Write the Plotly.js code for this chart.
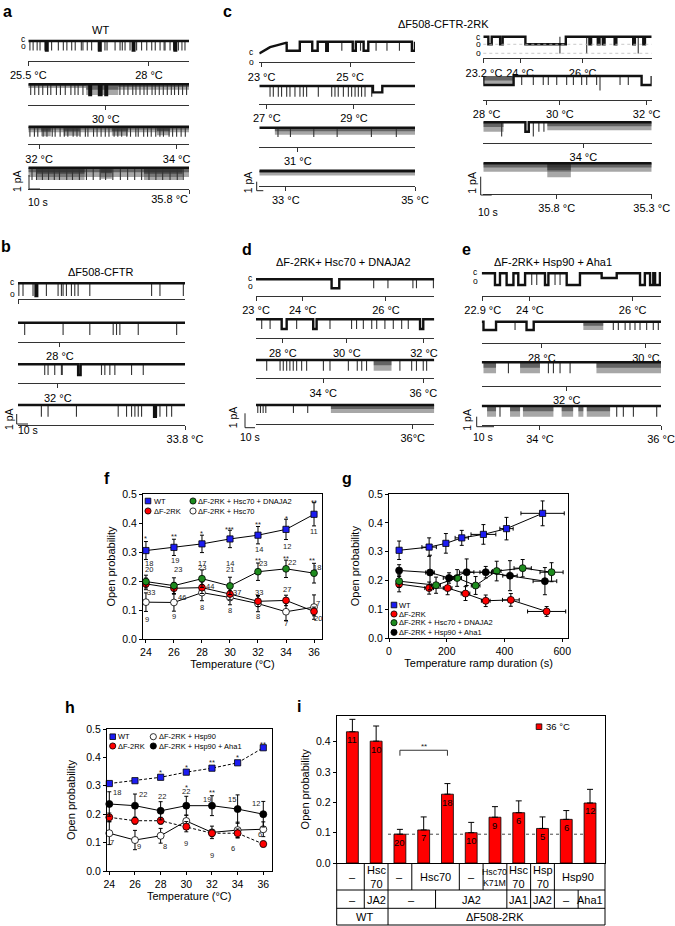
<!DOCTYPE html>
<html>
<head>
<meta charset="utf-8">
<script src="https://cdn.plot.ly/plotly-3.0.1.min.js"></script>
<style>html,body{margin:0;padding:0;background:#fff}#chart{width:675px;height:926px}</style>
</head>
<body>
<div id="chart"></div>
<script>
// ===================== DATA =====================
// --- panel f: Po vs temperature ---
const temps = [24, 26, 28, 30, 32, 34, 36];
const fWT = [0.305, 0.316, 0.328, 0.345, 0.358, 0.378, 0.430];
const fWTErr = [0.031, 0.028, 0.030, 0.030, 0.030, 0.035, 0.040];
const fRK = [0.190, 0.175, 0.177, 0.155, 0.130, 0.133, 0.095];
const fRKErr = [0.020, 0.020, 0.020, 0.020, 0.018, 0.018, 0.015];
const fHscJA2 = [0.198, 0.184, 0.208, 0.183, 0.232, 0.242, 0.227];
const fHscJA2Err = [0.022, 0.027, 0.030, 0.030, 0.030, 0.030, 0.034];
const fHsc = [0.127, 0.126, 0.160, 0.143, 0.122, 0.094, 0.110];
const fHscErr = [0.032, 0.030, 0.028, 0.025, 0.028, 0.030, 0.042];
const fWTn = [18, 19, 17, 14, 14, 12, 11];
const fHscJA2n = [20, 23, 23, 21, 23, 22, 18];
const fRKn = [33, 46, 44, 37, 33, 27, 20];
const fHscn = [9, 9, 8, 8, 8, 7, 7];
const fWTsig = ['*', '**', '*', '***', '**', '*', '**'];
const fHscJA2sig = ['**', '**', '**'];

// --- panel g: Po vs ramp duration ---
const gDurWT = [35, 139, 197, 252, 327, 407, 532];
const gDurWTErr = [8, 25, 8, 23, 43, 23, 75];
const gWT = [0.305, 0.316, 0.329, 0.348, 0.360, 0.380, 0.433];
const gWTErr = [0.032, 0.032, 0.034, 0.026, 0.034, 0.039, 0.043];
const gDurRK = [35, 139, 203, 265, 335, 422, 546];
const gDurRKErr = [8, 15, 15, 15, 15, 29, 66];
const gRK = [0.188, 0.174, 0.174, 0.155, 0.130, 0.133, 0.093];
const gRKErr = [0.027, 0.021, 0.023, 0.024, 0.020, 0.022, 0.017];
const gDurHscJA2 = [35, 163, 236, 300, 373, 463, 563];
const gDurHscJA2Err = [8, 15, 15, 15, 15, 30, 40];
const gHscJA2 = [0.198, 0.184, 0.209, 0.183, 0.233, 0.243, 0.229];
const gHscJA2Err = [0.022, 0.028, 0.029, 0.031, 0.034, 0.030, 0.033];
const gDurHspAha = [35, 142, 208, 269, 335, 419, 540];
const gDurHspAhaErr = [8, 15, 20, 25, 20, 25, 41];
const gHspAha = [0.235, 0.228, 0.209, 0.229, 0.229, 0.217, 0.198];
const gHspAhaErr = [0.020, 0.060, 0.018, 0.046, 0.020, 0.052, 0.047];

// --- panel h: Po vs temperature (Hsp90) ---
const hWT = [0.308, 0.318, 0.330, 0.348, 0.362, 0.381, 0.434];
const hRK = [0.189, 0.177, 0.177, 0.156, 0.133, 0.133, 0.095];
const hRKErr = [0.015, 0.012, 0.012, 0.018, 0.012, 0.015, 0.010];
const hHsp90 = [0.133, 0.109, 0.124, 0.176, 0.136, 0.144, 0.147];
const hHsp90Err = [0.040, 0.034, 0.026, 0.020, 0.022, 0.028, 0.026];
const hHspAha = [0.236, 0.230, 0.212, 0.230, 0.230, 0.218, 0.200];
const hHspAhaErr = [0.043, 0.041, 0.032, 0.033, 0.035, 0.050, 0.045];
const hWTsig = ['*', '*', '**', '*', '**'];
const hHspAhaSig = ['*', '**'];
const hHspAhan = [18, 22, 22, 22, 19, 15, 12];
const hHsp90n = [7, 9, 8, 9, 9, 6, 6];

// --- panel i: Po at 36 °C ---
const iVals = [0.433, 0.402, 0.095, 0.109, 0.227, 0.100, 0.151, 0.166, 0.114, 0.144, 0.198];
const iErr = [0.041, 0.050, 0.016, 0.043, 0.035, 0.034, 0.035, 0.039, 0.038, 0.029, 0.045];
const iN = [11, 10, 20, 7, 18, 10, 9, 6, 5, 6, 12];
const iRow1 = ['–', 'Hsc<br>70', '–', 'Hsc70', '–', 'Hsc70<br>K71M', 'Hsc<br>70', 'Hsp<br>70', 'Hsp90'];
const iRow1Span = [[0, 0], [1, 1], [2, 2], [3, 4], [5, 5], [6, 6], [7, 7], [8, 8], [9, 10]];
const iRow2 = ['–', 'JA2', '–', 'JA2', 'JA1', 'JA2', '–', 'Aha1'];
const iRow2Span = [[0, 0], [1, 1], [2, 3], [4, 6], [7, 7], [8, 8], [9, 9], [10, 10]];
const iRow3 = ['WT', 'ΔF508-2RK'];
const iRow3Span = [[0, 1], [2, 10]];
const iSigPair = [2, 4];

// --- panels a–e: single-channel records (time in % of sweep; openings: number = brief opening,
//     [start,end] = burst, [start,end,level] = sublevel / double level); dense = flickery stretches ---
const evA1 = [1, 3, 5.5, 7.3, 10.4, 14.5, 18.7, 21.8, 24, 27, 29.2, 33, 34, 36.7, 39.4, 43.6, 47.7, 49, 54, 57.1, 58.5, 60.2, 63.3, 67.4, 70.5, 73.7, 76.8, 79, 82, 84.5, 85.1, 88.2, 90.4, 93.4, 95.6, 97.5, [11, 12], [44, 45], [65, 66], [91, 92]];
const dnA1 = [];
const evA2 = [1.5, 4, 6.5, 9, 12, 14, 17.5, 20, 23, 26.5, 29, 31, 34, 57, 59.5, 62, 65, 67, 69.5, 72, 74, 77, 79, 81.5, 84, 86.5, 89, 91, 93.5, 96, 98.5, [38, 39], [44, 45.5], [48, 49]];
const dnA2 = [[36, 56, 1], [56, 100, 0.5], [0, 36, 0.35]];
const evA3 = [1, 3.8, 5.9, 9.2, 11.6, 14.9, 16.7, 19.8, 22.4, 24.6, 27.9, 30.3, 32.2, 35.5, 37.1, 40.6, 42.8, 45.3, 47.9, 50.2, 53.4, 55.7, 58.1, 61.3, 63.6, 66.9, 68.4, 71.8, 74.2, 76.5, 79.3, 81.9, 84.1, 87.6, 89.8, 92.3, 95.1, 97.7];
const dnA3 = [[0, 100, 0.55], [8, 14, 0.95], [22, 32, 0.9], [52, 62, 0.9], [80, 88, 0.85]];
const evA4 = [2.3, 5.1, 8.8, 12.6, 16.2, 19.4, 23.9, 27.5, 31.8, 36.2, 40.4, 44.7, 48.1, 52.6, 57.3, 61.8, 66.2, 70.5, 75.1, 79.4, 83.6, 88.2, 92.7, 96.4];
const dnA4 = [[0, 100, 0.75], [5, 35, 1], [45, 52, 0.9], [72, 96, 1]];

const evB1 = [0.5, 3, 9, 11, 17, 24, 26, 27, 29, 32, 34, 36, 43, 80, 85, 99, [10.5, 11.5]];
const evB2 = [4, 27, 43, 57, 59, 61, 72, 95];
const evB3 = [16, 18, 22, 26, 26.5, 50, 52, 55, 58, 68, 75, [36, 37.5]];
const evB4 = [14, 18, 35, 60, 65, 68, 70, 72, 74, 83, 85, 89, 92, [81.5, 82.5]];

const driftCL1x = [0, 3.6, 6.9, 11.1, 15.4, 17.6];
const driftCL1y = [-1.3, -0.9, -0.6, -0.4, -0.2, -0.1];
const evCL1 = [[17.6, 26], [34, 37.5], [43, 44], [60, 62], [67, 70], [98, 100], 53, 65, 75, 82, 90];
const evCL2 = [6.9, 9, 12.2, 14.3, 17.6, 19.7, 22.9, 26.1, 28.3, 30.4, 37.9, 46.5, 48.6, 50.7, 54, 57.2, 59.3, 61.5, 63.6, 65.7, 67.9, 72.2, [73, 79, 0.6]];
const evCL3 = [12, 20, 35, 50, 72, 88];
const dnCL3 = [[10, 100, 0.75]];
const dnCL4 = [[0, 100, 0.8]];

const evCR1 = [[3, 5], [10, 11.5], [25, 49], [63, 64], [68, 69], [71, 72], [78, 79], [89, 90], [95, 96], [45.5, 45.5, 2.2], [61.4, 61.4, 2.2], [92, 92, 2.2]];
const evCR2 = [[0, 18], 22.8, 29.7, 35.6, 38.6, 43.6, 49.5, 53.5, 58.4, 61.4, 67.3, [69.3, 69.3, 1.6], 81.2, 86.1, [94, 100]];
const dnCR2 = [[0, 18, 1]];
const evCR3 = [[25, 27], [29.7, 29.7, 1.5], [10.9, 10.9, 1.5], 33, 36];
const dnCR3 = [[0, 12, 1], [38, 100, 0.85]];
const dnCR4 = [[0, 100, 0.85], [38, 52, 1.4]];

const evD1 = [[42.4, 46.7], 66, 74, 88, 90, 99.5];
const evD2 = [3.2, 7.9, [14.4, 17.2], 22.8, [32.1, 34], 41.5, 53.6, 56.4, 60.2, 64.9, 67.7, 72.3, 77, 81.7, 85.4, [92, 93.8]];
const evD3 = [6, 13.5, 15.3, 17.2, 19, 20.9, 22.8, 25.6, 28.4, 37.8, 41.5, 51.8, 56.8, 59.3, 62, 80.7, 87.3, 90, 93.8, 95.7];
const dnD3 = [[66, 76, 1]];
const evD4 = [1, 2.5, 4, 5.5, 21, 29];
const dnD4 = [[42, 100, 1]];

const evE1 = [[7.4, 10.2], [13.9, 17.7], [20.4, 24.2], 27.9, 30.7, [35.3, 37.2], 40.9, 43.7, [47.4, 54.8], [66.9, 75.3, 0.4], [88.3, 91], [93.9, 95.7], [96.7, 99.4]];
const evE2 = [[1, 8], 18.6, [25, 29], 73.4, 76.2, 80, 82.7, 85.5, 88.3, 92, 95.7, 98.5];
const dnE2 = [[56.7, 67.8, 1]];
const evE3 = [14.9, 37.2, 40, 43.7, 49.3];
const dnE3 = [[1, 8, 1], [21.4, 32.5, 1], [64, 100, 1]];
const evE4 = [10.2, 75.3, 79, 84.6, 97.6];
const dnE4 = [[3, 8, 1], [15.8, 21.4, 1], [23, 40, 1], [44.6, 51, 1], [53.9, 56.7, 1], [58.6, 71.6, 1]];

// temperature marks along each sweep (time in %) and their labels
const tA1 = [0, 75.1], lA1 = ['25.5 °C', '28 °C'];
const tA2 = [48.2], lA2 = ['30 °C'];
const tA3 = [6.7, 92.3], lA3 = ['32 °C', '34 °C'];
const tA4 = [100], lA4 = ['35.8 °C'];
const tB1 = [0], lB1 = ['26.6 °C'];
const tB2 = [25.1], lB2 = ['28 °C'];
const tB3 = [23.8], lB3 = ['32 °C'];
const tB4 = [100], lB4 = ['33.8 °C'];
const tCL1 = [1.5, 58.3], lCL1 = ['23 °C', '25 °C'];
const tCL2 = [4.8, 60.8], lCL2 = ['27 °C', '29 °C'];
const tCL3 = [24.7], lCL3 = ['31 °C'];
const tCL4 = [17, 100], lCL4 = ['33 °C', '35 °C'];
const tCR1 = [0.4, 21.8, 59], lCR1 = ['23.2 °C', '24 °C', '26 °C'];
const tCR2 = [2, 45.5, 97], lCR2 = ['28 °C', '30 °C', '32 °C'];
const tCR3 = [59.4], lCR3 = ['34 °C'];
const tCR4 = [43.6, 100], lCR4 = ['35.8 °C', '35.3 °C'];
const tD1 = [0, 26.2, 72.9], lD1 = ['23 °C', '24 °C', '26 °C'];
const tD2 = [15, 50.9, 94.2], lD2 = ['28 °C', '30 °C', '32 °C'];
const tD3 = [37.7, 93.8], lD3 = ['34 °C', '36 °C'];
const tD4 = [87.9], lD4 = ['36°C'];
const tE1 = [0.6, 26.9, 84.2], lE1 = ['22.9 °C', '24 °C', '26 °C'];
const tE2 = [33.5, 91.6], lE2 = ['28 °C', '30 °C'];
const tE3 = [47.4], lE3 = ['32 °C'];
const tE4 = [32.5, 100], lE4 = ['34 °C', '36 °C'];

// ===================== LAYOUT (pixel geometry) =====================
const W = 675, H = 926;
const px = v => v / W;
const py = v => 1 - v / H;
const FONT = 'Liberation Sans, Arial, Helvetica, sans-serif';
const BLUE = '#1c1cf2', RED = '#ff0000', GREEN = '#1e8c1e';

// row: data, x0, x1, closed-level px, open-level px, temperature-line px, label position
const rows = [
  [evA1, dnA1, tA1, lA1, null, 28.3, 189, 41, 50.5, 61],
  [evA2, dnA2, tA2, lA2, null, 28.3, 189, 84.3, 95, 105],
  [evA3, dnA3, tA3, lA3, null, 28.3, 189, 126.7, 136.7, 144.3],
  [evA4, dnA4, tA4, lA4, null, 28.3, 189, 167.7, 180, 189, 'outside left'],
  [evB1, [], tB1, lB1, null, 18, 185, 283.3, 296, 299.3],
  [evB2, [], tB2, lB2, null, 18, 185, 322.7, 335, 341.7],
  [evB3, [], tB3, lB3, null, 18, 185, 364.3, 375, 383.3],
  [evB4, [], tB4, lB4, null, 18, 185, 405, 416.7, 425],
  [evCL1, [], tCL1, lCL1, [driftCL1x, driftCL1y], 259.3, 415, 41.7, 50.7, 62.3],
  [evCL2, [], tCL2, lCL2, null, 259.3, 415, 86, 96.7, 104],
  [evCL3, dnCL3, tCL3, lCL3, null, 259.3, 415, 127.7, 137, 146.7],
  [[], dnCL4, tCL4, lCL4, null, 259.3, 415, 170.7, 176.7, 186],
  [evCR1, [], tCR1, lCR1, null, 483.3, 651.7, 36.7, 44.3, 58.3],
  [evCR2, dnCR2, tCR2, lCR2, null, 483.3, 651.7, 76, 85, 100],
  [evCR3, dnCR3, tCR3, lCR3, null, 483.3, 651.7, 122.3, 131.7, 142.7],
  [[], dnCR4, tCR4, lCR4, null, 483.3, 651.7, 163.3, 173.3, 194],
  [evD1, [], tD1, lD1, null, 256, 434.3, 279.3, 288.3, 296],
  [evD2, [], tD2, lD2, null, 256, 434.3, 319.3, 329, 338.3],
  [evD3, dnD3, tD3, lD3, null, 256, 434.3, 360, 370.7, 378.3],
  [evD4, dnD4, tD4, lD4, null, 256, 434.3, 405, 413, 424],
  [evE1, [], tE1, lE1, null, 481.7, 661, 273.3, 285, 295.7],
  [evE2, dnE2, tE2, lE2, null, 481.7, 661, 321.7, 330, 343.3],
  [evE3, dnE3, tE3, lE3, null, 481.7, 661, 362.3, 373.3, 385.7],
  [evE4, dnE4, tE4, lE4, null, 481.7, 661, 406, 416.7, 425]
];

const traces = [];
const layout = {
  width: W, height: H, margin: {l: 0, r: 0, t: 0, b: 0},
  paper_bgcolor: 'white', plot_bgcolor: 'rgba(0,0,0,0)', showlegend: false,
  font: {family: FONT, size: 11, color: 'black'},
  annotations: [], shapes: []
};

function pann(text, x, y, size, extra) {
  layout.annotations.push(Object.assign({
    text: text, x: px(x), y: py(y), xref: 'paper', yref: 'paper', showarrow: false,
    font: {size: size, color: 'black', family: FONT}, xanchor: 'center', yanchor: 'middle', borderpad: 0
  }, extra || {}));
}
function dann(text, x, y, xa, ya, size, extra) {
  layout.annotations.push(Object.assign({
    text: String(text), x: x, y: y, xref: xa, yref: ya, showarrow: false,
    font: {size: size, color: '#222', family: FONT}, xanchor: 'center', yanchor: 'middle', borderpad: 0
  }, extra || {}));
}
function pline(x0, y0, x1, y1, color, width, dash) {
  layout.shapes.push({type: 'line', xref: 'paper', yref: 'paper', x0: px(x0), y0: py(y0), x1: px(x1), y1: py(y1),
    line: {color: color || 'black', width: width || 1, dash: dash || 'solid'}});
}
function legendMark(x, y, kind, fill) {
  const s = kind === 'square' ? 2.8 : 3.1;
  layout.shapes.push({type: kind === 'square' ? 'rect' : 'circle', xref: 'paper', yref: 'paper',
    x0: px(x - s), x1: px(x + s), y0: py(y + s), y1: py(y - s), fillcolor: fill, line: {color: 'black', width: 0.8}});
}

// ---------- single-channel rows ----------
rows.forEach((r, k) => {
  const [ev, dense, tAt, tLab, drift, x0, x1, c, o, lineY, tlp] = r;
  const idx = k + 5;
  const xa = 'x' + idx, ya = 'y' + idx;
  const u = o - c;
  layout['xaxis' + idx] = {
    domain: [px(x0), px(x1)], range: [0, 1], anchor: 'free', position: py(lineY),
    showline: true, linecolor: '#333', linewidth: 1, ticks: 'outside', ticklen: 4, tickwidth: 1, tickcolor: '#333',
    tickvals: tAt.map(v => v / 100), ticktext: tLab, tickfont: {size: 11, color: 'black', family: FONT},
    ticklabelposition: tlp || 'outside', showgrid: false, zeroline: false, fixedrange: true
  };
  layout['yaxis' + idx] = {domain: [py(c + 2.6 * u), py(c - 1.6 * u)], range: [-2.6, 1.6], visible: false, anchor: xa, fixedrange: true};

  dense.forEach(d => {
    // full-depth flicker band, darker towards the closed level
    [[1, 'rgba(60,60,60,0.45)'], [0.5, 'rgba(20,20,20,0.45)']].forEach(f => {
      traces.push({type: 'scatter', mode: 'lines', xaxis: xa, yaxis: ya, hoverinfo: 'skip',
        x: [d[0] / 100, d[1] / 100, d[1] / 100, d[0] / 100, d[0] / 100], y: [0, 0, -d[2] * f[0], -d[2] * f[0], 0],
        fill: 'toself', fillcolor: f[1], line: {width: 0}});
    });
  });
  const evs = ev.map(e => Array.isArray(e) ? {s: e[0], e: e[1], L: e.length > 2 ? e[2] : 1} : {s: e, e: e, L: 1})
    .sort((a, b) => a.s - b.s);
  const bx = [], by = [];
  if (drift) { drift[0].forEach((v, i) => { bx.push(v / 100); by.push(drift[1][i]); }); }
  else { bx.push(0); by.push(0); }
  const sx = [], sy = [];
  evs.forEach(q => {
    if (q.e > q.s) { bx.push(q.s / 100, q.s / 100, q.e / 100, q.e / 100); by.push(0, -q.L, -q.L, 0); }
    else { sx.push(q.s / 100, q.s / 100, null); sy.push(0, -q.L, null); }
  });
  bx.push(1); by.push(0);
  traces.push({type: 'scatter', mode: 'lines', xaxis: xa, yaxis: ya, x: sx, y: sy, hoverinfo: 'skip',
    line: {color: '#333', width: 1.1}});
  traces.push({type: 'scatter', mode: 'lines', xaxis: xa, yaxis: ya, x: bx, y: by, hoverinfo: 'skip',
    line: {color: '#111', width: 2.4}});
});

// panel letters
[['a', 7, 12], ['b', 6, 246], ['c', 227, 12], ['d', 247, 250], ['e', 466, 250],
 ['f', 107, 478], ['g', 347, 478], ['h', 70, 707], ['i', 299, 706]].forEach(l =>
  pann('<b>' + l[0] + '</b>', l[1], l[2], 16));
// record titles
pann('WT', 100, 30, 11);
pann('ΔF508-CFTR', 100, 272, 11);
pann('ΔF508-CFTR-2RK', 443, 24, 11);
pann('ΔF-2RK+ Hsc70 + DNAJA2', 343, 262.5, 11);
pann('ΔF-2RK+ Hsp90 + Aha1', 553, 262.5, 11);
// closed / open labels
[[23, 39, 'c'], [23, 46, 'o'], [12, 282, 'c'], [12, 294, 'o'], [251.7, 52, 'c'], [251.7, 62, 'o'],
 [478.3, 36.5, 'c'], [478.3, 44.5, 'o'], [478.3, 53.3, 'o'], [250, 278, 'c'], [250, 286, 'o'],
 [476, 272, 'c'], [476, 281, 'o']].forEach(t => pann(t[2], t[0], t[1], 8.5));
pline(483.3, 44.3, 651.7, 44.3, '#bbb', 0.8, 'dot');
pline(483.3, 53.3, 651.7, 53.3, '#bbb', 0.8, 'dot');
// scale bars
[[29, 175, 189, 40, 17, 181, 38, 202],
 [16.7, 414, 424, 28, 9, 419, 28.3, 430],
 [256.7, 181.7, 190.7, 263.3, 248.3, 182, null, null],
 [480.7, 176.7, 195, 491.7, 471.7, 183, 488.3, 211.7],
 [245, 413.3, 427.7, 255, 233.3, 417, 250, 437],
 [476.7, 416.7, 426.7, 494, 466.7, 420, 483.3, 437]].forEach(s => {
  pline(s[0], s[1], s[0], s[2], '#222', 1);
  pline(s[0], s[2], s[3], s[2], '#222', 1);
  pann('1 pA', s[4], s[5], 10.5, {textangle: -90});
  if (s[6] !== null) pann('10 s', s[6], s[7], 10.5);
});

// ---------- chart axes ----------
const baseAx = {showline: true, linecolor: 'black', linewidth: 1, mirror: true, ticks: 'outside', ticklen: 3,
  tickwidth: 1, tickcolor: 'black', showgrid: false, zeroline: false, fixedrange: true,
  tickfont: {size: 10.5, color: 'black', family: FONT}};
function ax(extra) { return Object.assign({}, baseAx, extra); }
const tempTitle = {text: 'Temperature (°C)', font: {size: 11, family: FONT}, standoff: 3};
const poTitle = s => ({text: 'Open probability', font: {size: 11, family: FONT}, standoff: s});

layout.xaxis = ax({domain: [px(143), px(322)], range: [23.79, 36.57], tickvals: temps, title: tempTitle, anchor: 'y'});
layout.yaxis = ax({domain: [py(639), py(494)], range: [0, 0.5], dtick: 0.1, tickformat: '.1f', title: poTitle(4), anchor: 'x'});
layout.xaxis2 = ax({domain: [px(389), px(568.3)], range: [0, 621], tickvals: [0, 200, 400, 600],
  title: {text: 'Temperature ramp duration (s)', font: {size: 11, family: FONT}, standoff: 3}, anchor: 'y2'});
layout.yaxis2 = ax({domain: [py(638.3), py(494)], range: [0, 0.5], dtick: 0.1, tickformat: '.1f', title: poTitle(6), anchor: 'x2'});
layout.xaxis3 = ax({domain: [px(107), px(271.5)], range: [23.82, 36.64], tickvals: temps, title: tempTitle, anchor: 'y3'});
layout.yaxis3 = ax({domain: [py(871), py(729)], range: [0, 0.5], dtick: 0.1, tickformat: '.1f', title: poTitle(8), anchor: 'x3'});
layout.xaxis4 = ax({domain: [px(336.7), px(605)], range: [-0.66, 10.63], ticks: '', showticklabels: false, anchor: 'y4'});
layout.yaxis4 = ax({domain: [py(863), py(715.7)], range: [0, 0.486], tickvals: [0, 0.1, 0.2, 0.3, 0.4], tickformat: '.1f', title: poTitle(4), anchor: 'x4'});

function series(x, y, err, xa, ya, sym, color, size, dash, xerr) {
  const t = {type: 'scatter', mode: 'lines+markers', x: x, y: y, xaxis: xa, yaxis: ya, hoverinfo: 'skip', cliponaxis: false,
    line: {color: 'black', width: 1, dash: dash || 'solid'},
    marker: {symbol: sym, size: size, color: color, line: {color: 'black', width: 0.8}},
    error_y: err ? {type: 'data', array: err, visible: true, color: 'black', thickness: 1, width: 2} : {visible: false}};
  if (xerr) t.error_x = {type: 'data', array: xerr, visible: true, color: 'black', thickness: 1, width: 2};
  return t;
}
// f
traces.push(series(temps, fHsc, fHscErr, 'x', 'y', 'circle', 'white', 6.8));
traces.push(series(temps, fRK, fRKErr, 'x', 'y', 'circle', RED, 6.8));
traces.push(series(temps, fHscJA2, fHscJA2Err, 'x', 'y', 'circle', GREEN, 6.8));
traces.push(series(temps, fWT, fWTErr, 'x', 'y', 'square', BLUE, 6.2));
// g
traces.push(series(gDurRK, gRK, gRKErr, 'x2', 'y2', 'circle', RED, 7, null, gDurRKErr));
traces.push(series(gDurHscJA2, gHscJA2, gHscJA2Err, 'x2', 'y2', 'circle', GREEN, 7, null, gDurHscJA2Err));
traces.push(series(gDurHspAha, gHspAha, gHspAhaErr, 'x2', 'y2', 'circle', 'black', 7, null, gDurHspAhaErr));
traces.push(series(gDurWT, gWT, gWTErr, 'x2', 'y2', 'square', BLUE, 6.2, null, gDurWTErr));
// h
traces.push(series(temps, hHsp90, hHsp90Err, 'x3', 'y3', 'circle', 'white', 7));
traces.push(series(temps, hRK, hRKErr, 'x3', 'y3', 'circle', RED, 7, '3px,2px'));
traces.push(series(temps, hHspAha, hHspAhaErr, 'x3', 'y3', 'circle', 'black', 7));
traces.push(series(temps, hWT, null, 'x3', 'y3', 'square', BLUE, 6.2, '3px,2px'));
// i
const iX = iVals.map((v, k) => k);
traces.push({type: 'bar', x: iX, y: iVals, xaxis: 'x4', yaxis: 'y4', width: 0.5, hoverinfo: 'skip',
  marker: {color: RED, line: {color: 'black', width: 0.8}},
  error_y: {type: 'data', symmetric: false, array: iErr, arrayminus: iErr.map(() => 0), color: 'black', thickness: 1, width: 3}});

// ---------- chart annotations (label positions) ----------
const fWTnPos = [[24.2, 0.262], [26.1, 0.27], [28, 0.259], [30, 0.259], [32.1, 0.307], [34.05, 0.32], [36, 0.37]];
const fGnPos = [[24.2, 0.24], [26.3, 0.238], [28, 0.246], [30, 0.238], [32.36, 0.259], [34.4, 0.263], [36.2, 0.248]];
const fRnPos = [[24.35, 0.16], [26.55, 0.143], [28.6, 0.18], [30.5, 0.16], [32.05, 0.16], [34.05, 0.171], [36.3, 0.069]];
const fHnPos = [[24.1, 0.066], [26, 0.079], [28, 0.107], [30, 0.097], [32, 0.077], [34, 0.052], [36.3, 0.124]];
const fWTsPos = [[24, 0.353], [26, 0.362], [28, 0.37], [30, 0.384], [32, 0.401], [34, 0.422], [36, 0.479]];
const fGsPos = [[32, 0.276], [34, 0.284], [35.85, 0.276]];
fWTn.forEach((n, k) => dann(n, fWTnPos[k][0], fWTnPos[k][1], 'x', 'y', 7.5));
fHscJA2n.forEach((n, k) => dann(n, fGnPos[k][0], fGnPos[k][1], 'x', 'y', 7.5));
fRKn.forEach((n, k) => dann(n, fRnPos[k][0], fRnPos[k][1], 'x', 'y', 7.5));
fHscn.forEach((n, k) => dann(n, fHnPos[k][0], fHnPos[k][1], 'x', 'y', 7.5));
fWTsig.forEach((s, k) => dann(s, fWTsPos[k][0], fWTsPos[k][1], 'x', 'y', 7.5, {yshift: -2}));
fHscJA2sig.forEach((s, k) => dann(s, fGsPos[k][0], fGsPos[k][1], 'x', 'y', 7.5, {yshift: -2}));

const hWTsPos = [[28, 0.353], [30, 0.373], [32, 0.388], [34, 0.405], [36, 0.454]];
const hBsPos = [[30, 0.30], [32, 0.282]];
const hBnPos = [[24.62, 0.276], [26.65, 0.271], [28.08, 0.264], [29.98, 0.279], [31.59, 0.252], [33.54, 0.252], [35.41, 0.238]];
const hWnPos = [[24.19, 0.10], [26.34, 0.086], [28.34, 0.088], [30, 0.097], [31.98, 0.056], [33.67, 0.08], [35.74, 0.127]];
hWTsig.forEach((s, k) => dann(s, hWTsPos[k][0], hWTsPos[k][1], 'x3', 'y3', 7.5, {yshift: -2}));
hHspAhaSig.forEach((s, k) => dann(s, hBsPos[k][0], hBsPos[k][1], 'x3', 'y3', 7.5, {yshift: -2}));
hHspAhan.forEach((n, k) => dann(n, hBnPos[k][0], hBnPos[k][1], 'x3', 'y3', 7.5));
hHsp90n.forEach((n, k) => dann(n, hWnPos[k][0], hWnPos[k][1], 'x3', 'y3', 7.5));

// i: n inside bars, reference line, significance bracket
iN.forEach((n, k) => dann(n, k, iVals[k], 'x4', 'y4', 9.5, {yshift: -8, font: {size: 9.5, color: 'black', family: FONT}}));
layout.shapes.push({type: 'line', xref: 'x4', yref: 'y4', x0: 1.5, x1: 9.75, y0: iVals[2], y1: iVals[2],
  line: {color: '#333', width: 0.9, dash: 'dot'}, layer: 'below'});
layout.shapes.push({type: 'path', xref: 'x4', yref: 'y4',
  path: `M ${iSigPair[0]} 0.354 L ${iSigPair[0]} 0.372 L ${iSigPair[1]} 0.372 L ${iSigPair[1]} 0.354`,
  line: {color: '#333', width: 1}});
dann('**', (iSigPair[0] + iSigPair[1]) / 2, 0.392, 'x4', 'y4', 8, {yshift: -2});

// i: condition table
const tTop = 863, tR1 = 890, tR2 = 908.3, tBot = 925;
[tR1, tR2, tBot].forEach(y => layout.shapes.push({type: 'line', xref: 'x4 domain', yref: 'paper', x0: 0, x1: 1, y0: py(y), y1: py(y), line: {color: 'black', width: 1}}));
[0, 1].forEach(x => layout.shapes.push({type: 'line', xref: 'x4 domain', yref: 'paper', x0: x, x1: x, y0: py(tTop), y1: py(tBot), line: {color: 'black', width: 1}}));
function tableRow(labels, spans, yTop, yBot, sizes) {
  spans.forEach((sp, k) => {
    if (k > 0) layout.shapes.push({type: 'line', xref: 'x4', yref: 'paper', x0: sp[0] - 0.5, x1: sp[0] - 0.5, y0: py(yTop), y1: py(yBot), line: {color: 'black', width: 1}});
    layout.annotations.push({text: labels[k], x: (sp[0] + sp[1]) / 2, y: py((yTop + yBot) / 2 + 0.5), xref: 'x4', yref: 'paper',
      showarrow: false, xanchor: 'center', yanchor: 'middle', borderpad: 0,
      font: {size: sizes ? sizes[k] : 11, color: 'black', family: FONT}});
  });
}
tableRow(iRow1, iRow1Span, tTop, tR1, [11, 11, 11, 11, 11, 8.8, 11, 11, 11]);
tableRow(iRow2, iRow2Span, tR1, tR2);
tableRow(iRow3, iRow3Span, tR2, tBot);

// ---------- legends ----------
legendMark(148, 501, 'square', BLUE); pann('WT', 152.5, 501, 7.5, {xanchor: 'left'});
legendMark(148, 511, 'circle', RED); pann('ΔF-2RK', 152.5, 511, 7.5, {xanchor: 'left'});
legendMark(193, 501, 'circle', GREEN); pann('ΔF-2RK + Hsc70 + DNAJA2', 197.5, 501, 7.5, {xanchor: 'left'});
legendMark(193, 511, 'circle', 'white'); pann('ΔF-2RK + Hsc70', 197.5, 511, 7.5, {xanchor: 'left'});

legendMark(394, 605, 'square', BLUE); pann('WT', 398.5, 605, 7.5, {xanchor: 'left'});
legendMark(394, 614, 'circle', RED); pann('ΔF-2RK', 398.5, 614, 7.5, {xanchor: 'left'});
legendMark(394, 622.7, 'circle', GREEN); pann('ΔF-2RK + Hsc70 + DNAJA2', 398.5, 622.7, 7.5, {xanchor: 'left'});
legendMark(394, 632.3, 'circle', 'black'); pann('ΔF-2RK + Hsp90 + Aha1', 398.5, 632.3, 7.5, {xanchor: 'left'});

legendMark(112.7, 736.7, 'square', BLUE); pann('WT', 117, 736.7, 7.5, {xanchor: 'left'});
legendMark(112.7, 746, 'circle', RED); pann('ΔF-2RK', 117, 746, 7.5, {xanchor: 'left'});
legendMark(153.3, 736.7, 'circle', 'white'); pann('ΔF-2RK + Hsp90', 157.7, 736.7, 7.5, {xanchor: 'left'});
legendMark(153.3, 746, 'circle', 'black'); pann('ΔF-2RK + Hsp90 + Aha1', 157.7, 746, 7.5, {xanchor: 'left'});

legendMark(539, 726.7, 'square', RED); pann('36 °C', 545, 726.7, 9.5, {xanchor: 'left'});

Plotly.newPlot('chart', traces, layout, {staticPlot: true, displayModeBar: false});
</script>
</body>
</html>
